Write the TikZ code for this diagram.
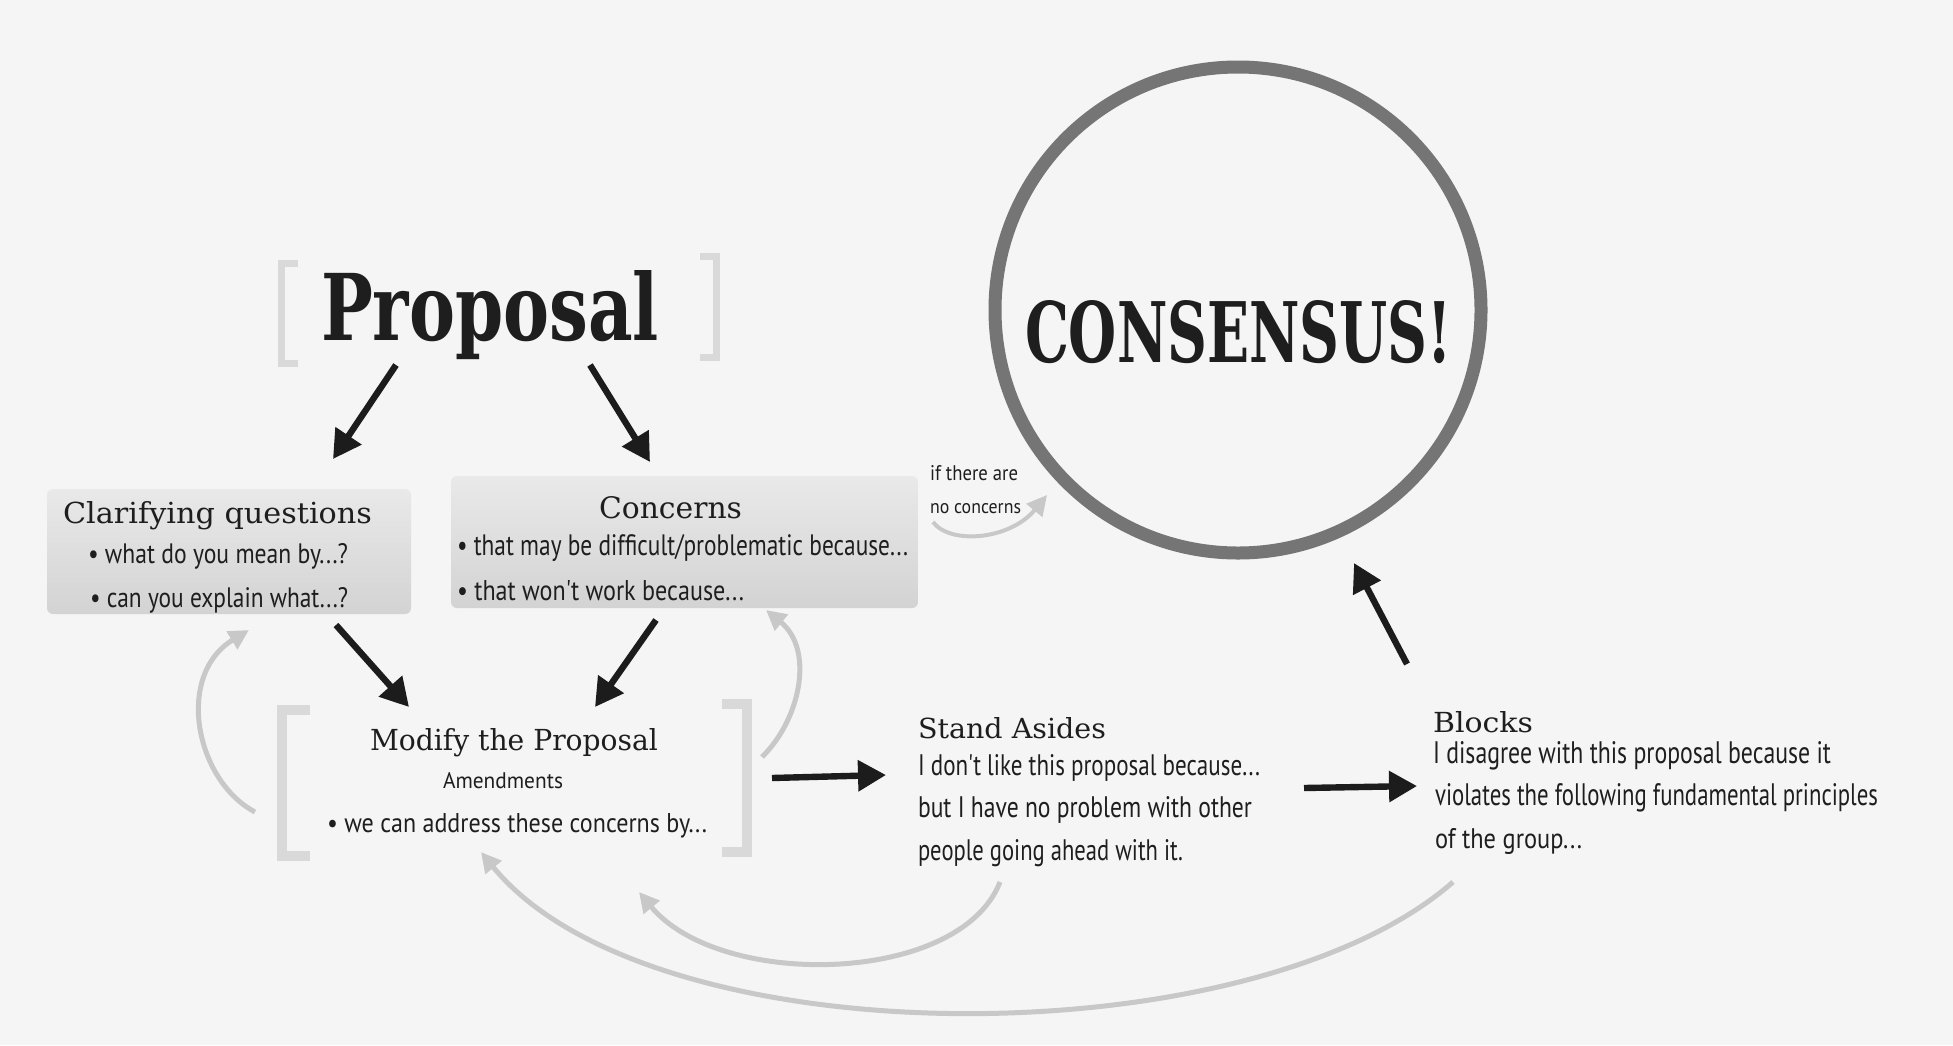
\documentclass[tikz,border=0pt]{standalone}
\usepackage{fontspec}
\usepackage{graphicx}
\usetikzlibrary{arrows.meta}
\newfontfamily\typefont{DejaVu Serif}
\newfontfamily\titlefont{DejaVu Serif}
\newfontfamily\handfont{PT Sans}
\newdimen\upx \upx=0.5pt
\newcommand\fitt[3]{\resizebox{#1\upx}{#2\upx}{#3}}
\definecolor{bgc}{HTML}{F5F5F5}
\definecolor{ink}{HTML}{1E1E1E}
\definecolor{arrowc}{HTML}{1C1C1C}
\definecolor{graya}{HTML}{C8C8C8}
\definecolor{brc}{HTML}{D9D9D9}
\definecolor{boxtop}{HTML}{E9E9E9}
\definecolor{boxbot}{HTML}{D3D3D3}
\definecolor{ringc}{HTML}{757575}
\begin{document}
\begin{tikzpicture}[x=0.5pt,y=-0.5pt,
  txt/.style={inner sep=0pt, outer sep=0pt, anchor=base west, text=ink},
  box/.style={rectangle, rounded corners=3pt, top color=boxtop, bottom color=boxbot, draw=none, inner sep=0pt},
  blk/.style={line width=3.2pt, draw=arrowc, -{Triangle[length=14pt,width=15pt]}},
  gry/.style={line width=2.5pt, draw=graya, -{Triangle[length=10pt,width=10pt]}},
  brk/.style={draw=brc, line cap=butt, miter limit=10}]
\fill[bgc] (0,0) rectangle (1953,1045);
\useasboundingbox (0,0) rectangle (1953,1045);

% ---- Proposal
\draw[brk, line width=3.5pt] (298,263) -- (281,263) -- (281,363) -- (298,363);
\draw[brk, line width=3.5pt] (700,256) -- (716,256) -- (716,357) -- (700,357);
\node[txt] (prop) at (321,340) {\fitt{338}{70}{\typefont\bfseries Proposal}};

% ---- boxes
\node[box, minimum width=182pt, minimum height=62.5pt] (clar) at (229,551.5) {};
\node[box, minimum width=233.5pt, minimum height=66pt] (conc) at (684.5,542) {};

\node[txt] (clart) at (63,523) {\fitt{309}{22}{\titlefont Clarifying questions}};
\node[txt] (clar1) at (88,563) {\fitt{260}{20}{\handfont • what do you mean by...?}};
\node[txt] (clar2) at (90,607) {\fitt{258}{20}{\handfont • can you explain what...?}};

\node[txt] (conct) at (599,518) {\fitt{143}{22}{\titlefont Concerns}};
\node[txt] (conc1) at (457,555) {\fitt{451}{21}{\handfont • that may be difficult/problematic because...}};
\node[txt] (conc2) at (457,600) {\fitt{287}{20}{\handfont • that won't work because...}};

% ---- if there are no concerns
\node[txt] (if1) at (930,480) {\fitt{88}{15}{\handfont if there are}};
\node[txt] (if2) at (930,513) {\fitt{91}{10}{\handfont no concerns}};

% ---- Consensus
\node[circle, draw=ringc, line width=6.5pt, minimum size=243pt, inner sep=0pt] (cons) at (1238,310) {};
\node[txt] (const) at (1025,362) {\fitt{427}{62}{\typefont\bfseries CONSENSUS!}};

% ---- Modify the proposal
\draw[brk, line width=5pt] (310,710) -- (282,710) -- (282,856) -- (310,856);
\draw[brk, line width=5pt] (722,704) -- (747,704) -- (747,852) -- (722,852);
\node[txt] (modt) at (370,750) {\fitt{288}{22}{\titlefont Modify the Proposal}};
\node[txt] (moda) at (443,788) {\fitt{120}{16}{\handfont Amendments}};
\node[txt] (mod1) at (327,832) {\fitt{380}{19}{\handfont • we can address these concerns by...}};

% ---- Stand asides
\node[txt] (sat) at (918,738) {\fitt{188}{21}{\titlefont Stand Asides}};
\node[txt] (sa1) at (918,775) {\fitt{342}{21}{\handfont I don't like this proposal because...}};
\node[txt] (sa2) at (918,817) {\fitt{334}{21}{\handfont but I have no problem with other}};
\node[txt] (sa3) at (918,860) {\fitt{265}{21}{\handfont people going ahead with it.}};

% ---- Blocks
\node[txt] (blt) at (1433,732) {\fitt{100}{21}{\titlefont Blocks}};
\node[txt] (bl1) at (1433,763) {\fitt{398}{22}{\handfont I disagree with this proposal because it}};
\node[txt] (bl2) at (1435,805) {\fitt{443}{22}{\handfont violates the following fundamental principles}};
\node[txt] (bl3) at (1435,848) {\fitt{147}{20}{\handfont of the group...}};

% ---- connector end points
\coordinate (p1) at (396,365);  \coordinate (c1) at (333,459);
\coordinate (p2) at (590,365);  \coordinate (c2) at (650,462);
\coordinate (c3) at (336,625);  \coordinate (m1) at (409,707);
\coordinate (c4) at (656,620);  \coordinate (m2) at (595,707);
\coordinate (m3) at (772,778);  \coordinate (s1) at (886,775);
\coordinate (s2) at (1304,788); \coordinate (b1) at (1417,786);
\coordinate (b2) at (1407,664); \coordinate (k1) at (1354,563);
\coordinate (m4) at (255,812);  \coordinate (c5) at (249,630);
\coordinate (m5) at (762,757);  \coordinate (c6) at (766,610);
\coordinate (s3) at (1000,882); \coordinate (m6) at (639,892);
\coordinate (b3) at (1453,882); \coordinate (m7) at (481,852);
\coordinate (n1) at (933,522);  \coordinate (k2) at (1047,495);

% ---- black arrows
\draw[blk] (p1) -- (c1);
\draw[blk] (p2) -- (c2);
\draw[blk] (c3) -- (m1);
\draw[blk] (c4) -- (m2);
\draw[blk] (m3) -- (s1);
\draw[blk] (s2) -- (b1);
\draw[blk] (b2) -- (k1);

% ---- gray return arrows
\draw[gry] (m4) .. controls (195,780) and (175,675) .. (c5);
\draw[gry] (m5) .. controls (800,720) and (815,650) .. (c6);
\draw[gry] (s3) .. controls (960,985) and (720,990) .. (m6);
\draw[gry] (b3) .. controls (1250,1060) and (650,1060) .. (m7);
\draw[gry, line width=2pt] (n1) .. controls (950,545) and (1010,540) .. (k2);
\end{tikzpicture}
\end{document}
